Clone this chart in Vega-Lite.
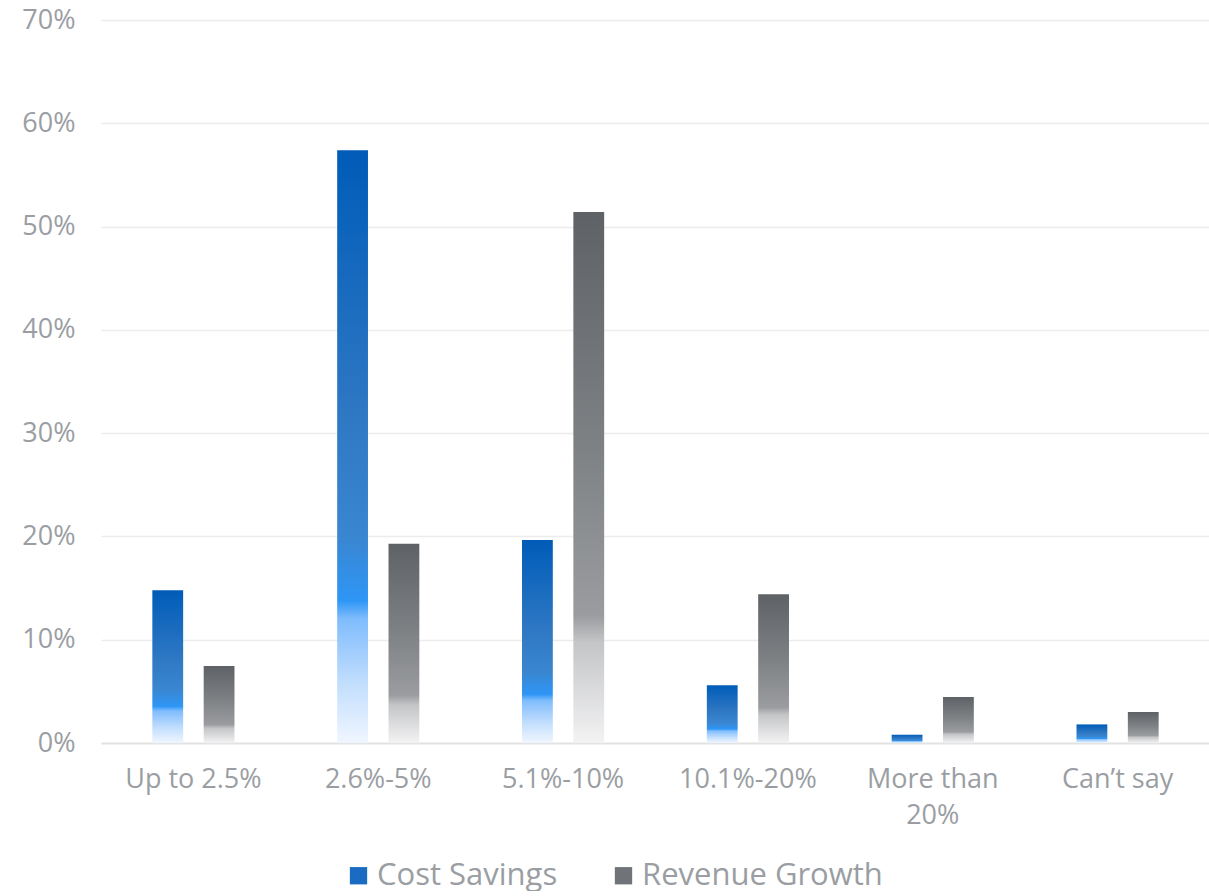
{
  "$schema": "https://vega.github.io/schema/vega-lite/v6.json",
  "width": 1109,
  "height": 723,
  "autosize": {"type": "pad"},
  "padding": {"left": 21, "top": 6, "right": 0, "bottom": 0},
  "background": "white",
  "config": {
    "font": "Open Sans",
    "view": {"stroke": null}
  },
  "data": {
    "values": [
      {"category": "Up to 2.5%", "series": "Cost Savings", "value": 0.148},
      {"category": "Up to 2.5%", "series": "Revenue Growth", "value": 0.0745},
      {"category": "2.6%-5%", "series": "Cost Savings", "value": 0.574},
      {"category": "2.6%-5%", "series": "Revenue Growth", "value": 0.193},
      {"category": "5.1%-10%", "series": "Cost Savings", "value": 0.1965},
      {"category": "5.1%-10%", "series": "Revenue Growth", "value": 0.514},
      {"category": "10.1%-20%", "series": "Cost Savings", "value": 0.056},
      {"category": "10.1%-20%", "series": "Revenue Growth", "value": 0.144},
      {"category": "More than 20%", "series": "Cost Savings", "value": 0.008},
      {"category": "More than 20%", "series": "Revenue Growth", "value": 0.0445},
      {"category": "Can’t say", "series": "Cost Savings", "value": 0.018},
      {"category": "Can’t say", "series": "Revenue Growth", "value": 0.030}
    ]
  },
  "encoding": {
    "x": {
      "field": "category",
      "type": "nominal",
      "sort": ["Up to 2.5%", "2.6%-5%", "5.1%-10%", "10.1%-20%", "More than 20%", "Can’t say"],
      "scale": {"paddingInner": 0, "paddingOuter": 0},
      "axis": {
        "title": null,
        "labelAngle": 0,
        "labelFontSize": 27,
        "labelColor": "#9a9ea3",
        "labelPadding": 23,
        "labelLineHeight": 36,
        "labelExpr": "datum.label == 'More than 20%' ? ['More than', '20%'] : datum.label",
        "ticks": false,
        "domainColor": "#e3e3e3",
        "domainWidth": 2,
        "grid": false
      }
    },
    "xOffset": {
      "field": "series",
      "type": "nominal",
      "sort": ["Cost Savings", "Revenue Growth"],
      "scale": {"domain": ["Cost Savings", "Revenue Growth"], "paddingInner": 0.4, "paddingOuter": 1.05}
    },
    "y": {
      "field": "value",
      "type": "quantitative",
      "scale": {"domain": [0, 0.7]},
      "axis": {
        "title": null,
        "format": ".0%",
        "values": [0, 0.1, 0.2, 0.3, 0.4, 0.5, 0.6, 0.7],
        "labelFontSize": 27,
        "labelColor": "#9a9ea3",
        "labelPadding": 26,
        "ticks": false,
        "domain": false,
        "gridColor": "#ececec",
        "gridWidth": 1.5
      }
    }
  },
  "layer": [
    {
      "transform": [{"filter": "datum.series === 'Cost Savings'"}],
      "mark": {
        "type": "bar",
        "color": {"gradient": "linear", "x1": 0, "y1": 0, "x2": 0, "y2": 1, "stops": [
          {"offset": 0, "color": "#005cb8"},
          {"offset": 0.45, "color": "#2f78c4"},
          {"offset": 0.65, "color": "#3a86d0"},
          {"offset": 0.76, "color": "#2e96f6"},
          {"offset": 0.79, "color": "#7fbcfd"},
          {"offset": 0.9, "color": "#c2defd"},
          {"offset": 1, "color": "#f0f6ff"}
        ]}
      }
    },
    {
      "transform": [{"filter": "datum.series === 'Revenue Growth'"}],
      "mark": {
        "type": "bar",
        "color": {"gradient": "linear", "x1": 0, "y1": 0, "x2": 0, "y2": 1, "stops": [
          {"offset": 0, "color": "#5e6165"},
          {"offset": 0.45, "color": "#7f8285"},
          {"offset": 0.76, "color": "#9a9c9f"},
          {"offset": 0.81, "color": "#c4c5c7"},
          {"offset": 1, "color": "#f3f3f4"}
        ]}
      }
    },
    {
      "mark": {"type": "bar", "opacity": 0},
      "encoding": {
        "color": {
          "field": "series",
          "type": "nominal",
          "sort": ["Cost Savings", "Revenue Growth"],
          "scale": {"domain": ["Cost Savings", "Revenue Growth"], "range": ["#1a6cc2", "#707377"]},
          "legend": {
            "title": null,
            "orient": "none",
            "legendX": 242,
            "legendY": 840,
            "direction": "horizontal",
            "symbolType": "square",
            "symbolSize": 300,
            "symbolOpacity": 1,
            "symbolStrokeWidth": 0,
            "labelFontSize": 31,
            "labelColor": "#9a9ea3",
            "labelLimit": 400,
            "labelOffset": 3,
            "columnPadding": 50
          }
        }
      }
    }
  ]
}
